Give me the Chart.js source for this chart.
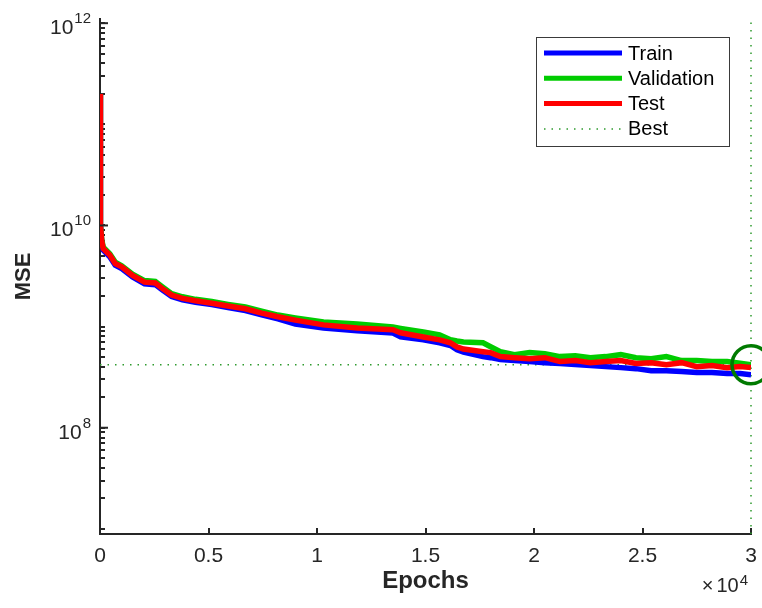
<!DOCTYPE html>
<html>
<head>
<meta charset="utf-8">
<script src="https://cdn.jsdelivr.net/npm/chart.js@4.4.1/dist/chart.umd.min.js"></script>
<style>
  html, body { margin: 0; padding: 0; background: #fff; }
  #wrap { width: 762px; height: 608px; }
</style>
</head>
<body>
<div id="wrap"><canvas id="perf" width="762" height="608"></canvas></div>
<script>
const epochs = [0, 10, 30, 80, 150, 450, 700, 1000, 1500, 2050, 2550, 2850, 3300, 3800, 4400,
  5150, 5900, 6700, 7450, 8200, 9000, 10300, 11850, 13500, 13850, 14900, 15650, 16150, 16450,
  16750, 17650, 18000, 18450, 19100, 19800, 20500, 21200, 21900, 22600, 23300, 24000, 24700,
  25400, 26100, 26800, 27500, 28200, 28900, 29500, 30000];

const trainMse = [2.0e11, 3.0e10, 1.0e10, 6.8e9, 5.7e9, 4.9e9, 4.05e9, 3.75e9, 3.1e9, 2.65e9,
  2.6e9, 2.32e9, 1.98e9, 1.84e9, 1.74e9, 1.65e9, 1.54e9, 1.44e9, 1.31e9, 1.19e9, 1.06e9,
  9.7e8, 9.1e8, 8.65e8, 7.9e8, 7.4e8, 6.9e8, 6.5e8, 5.9e8, 5.6e8,
  5.05e8, 4.93e8, 4.72e8, 4.61e8, 4.51e8, 4.40e8, 4.31e8, 4.21e8, 4.12e8, 4.02e8, 3.93e8,
  3.84e8, 3.67e8, 3.67e8, 3.59e8, 3.51e8, 3.51e8, 3.43e8, 3.43e8, 3.35e8];

const validationMse = [2.0e11, 3.0e10, 1.0e10, 7.2e9, 6.1e9, 5.25e9, 4.35e9, 4.0e9, 3.3e9, 2.85e9,
  2.8e9, 2.5e9, 2.12e9, 1.97e9, 1.86e9, 1.77e9, 1.66e9, 1.56e9, 1.42e9, 1.3e9, 1.22e9,
  1.11e9, 1.06e9, 9.9e8, 9.6e8, 8.85e8, 8.3e8, 7.4e8, 7.2e8, 7.05e8,
  6.93e8, 6.33e8, 5.65e8, 5.28e8, 5.53e8, 5.40e8, 5.05e8, 5.16e8, 4.93e8, 5.05e8, 5.28e8,
  4.93e8, 4.82e8, 5.05e8, 4.61e8, 4.61e8, 4.51e8, 4.51e8, 4.35e8, 4.2e8];

const testMse = [2.0e11, 3.0e10, 1.0e10, 7.0e9, 5.9e9, 5.1e9, 4.2e9, 3.9e9, 3.2e9, 2.75e9,
  2.7e9, 2.4e9, 2.05e9, 1.9e9, 1.8e9, 1.7e9, 1.6e9, 1.5e9, 1.36e9, 1.25e9, 1.16e9,
  1.04e9, 9.7e8, 9.3e8, 8.7e8, 7.9e8, 7.4e8, 6.9e8, 6.3e8, 6.0e8,
  5.65e8, 5.53e8, 5.05e8, 4.93e8, 4.82e8, 4.93e8, 4.51e8, 4.61e8, 4.40e8, 4.51e8, 4.61e8,
  4.31e8, 4.40e8, 4.21e8, 4.40e8, 4.02e8, 4.12e8, 3.93e8, 4.02e8, 3.93e8];

const bestEpoch = 30000;
const bestMse = 4.2e8;

const xTicks = [0, 5000, 10000, 15000, 20000, 25000, 30000];
const yLabelExps = [8, 10, 12];
const yMin = 8.9e6, yMax = 1.1e12;

const FONT = '"Liberation Sans", Arial, Helvetica, sans-serif';
const AXIS = '#262626';

// log minor ticks 1..9 x 10^n
const yTicks = [];
for (let p = 7; p <= 12; p++) {
  for (let m = 1; m <= 9; m++) {
    const v = m * Math.pow(10, p);
    if (v >= yMin && v <= yMax) yTicks.push(v);
  }
}

function pts(vals) {
  return epochs.map((e, i) => ({ x: e, y: vals[i] }));
}

const legendItems = [
  { label: 'Train', color: '#0000ff', dash: null },
  { label: 'Validation', color: '#00cc00', dash: null },
  { label: 'Test', color: '#ff0000', dash: null },
  { label: 'Best', color: '#2e9a2e', dash: [1.5, 6] }
];

const extras = {
  id: 'extras',
  afterDraw(chart) {
    const ctx = chart.ctx;
    const ys = chart.scales.y;
    const area = chart.chartArea;
    ctx.save();

    // y labels 10^n + longer major ticks
    ctx.fillStyle = AXIS;
    ctx.strokeStyle = AXIS;
    ctx.lineWidth = 2;
    ctx.textAlign = 'left';
    ctx.textBaseline = 'alphabetic';
    yLabelExps.forEach(p => {
      const py = ys.getPixelForValue(Math.pow(10, p));
      ctx.beginPath();
      ctx.moveTo(area.left, py);
      ctx.lineTo(area.left + 8, py);
      ctx.stroke();
      ctx.font = '15px ' + FONT;
      const ew = ctx.measureText(String(p)).width;
      ctx.font = '21px ' + FONT;
      const bw = ctx.measureText('10').width;
      const xe = 91 - ew;
      ctx.fillText('10', xe - 1 - bw, py + 11);
      ctx.font = '15px ' + FONT;
      ctx.fillText(String(p), xe, py);
    });

    // x exponent  (x10^4)
    ctx.font = '15px ' + FONT;
    const e4 = ctx.measureText('4').width;
    const x4 = area.right - 3 - e4;
    ctx.fillText('4', x4, 585);
    ctx.font = '20px ' + FONT;
    ctx.textAlign = 'right';
    const w10 = ctx.measureText('10').width;
    ctx.fillText('10', x4 - 1, 592);
    ctx.fillText('\u00d7', x4 - 1 - w10 - 3, 592);

    // legend
    const bx = 536.5, by = 37.5, bw2 = 193, bh = 109;
    ctx.textAlign = 'left';
    ctx.fillStyle = '#fff';
    ctx.fillRect(bx, by, bw2, bh);
    ctx.strokeStyle = '#3a3a3a';
    ctx.lineWidth = 1;
    ctx.strokeRect(bx, by, bw2, bh);
    legendItems.forEach((it, i) => {
      const ly = 53 + i * 25.3;
      ctx.beginPath();
      ctx.strokeStyle = it.color;
      if (it.dash) { ctx.setLineDash(it.dash); ctx.lineWidth = 1.5; }
      else { ctx.setLineDash([]); ctx.lineWidth = 5; }
      ctx.moveTo(544, ly);
      ctx.lineTo(622, ly);
      ctx.stroke();
      ctx.setLineDash([]);
      ctx.fillStyle = '#000';
      ctx.font = '20px ' + FONT;
      ctx.textBaseline = 'middle';
      ctx.fillText(it.label, 628, ly + 1);
    });
    ctx.restore();
  }
};

new Chart(document.getElementById('perf'), {
  type: 'line',
  data: {
    datasets: [
      {
        label: 'BestCircle', data: [{ x: bestEpoch, y: bestMse }], showLine: false,
        pointRadius: 19, pointHoverRadius: 19, pointBorderWidth: 3.5,
        pointBorderColor: '#007a00', pointBackgroundColor: 'rgba(0,0,0,0)',
        clip: false, order: 0
      },
      {
        label: 'Test', data: pts(testMse), borderColor: '#ff0000', borderWidth: 5.5,
        pointRadius: 0, tension: 0, order: 1
      },
      {
        label: 'Validation', data: pts(validationMse), borderColor: '#00cc00', borderWidth: 5.5,
        pointRadius: 0, tension: 0, order: 2
      },
      {
        label: 'Train', data: pts(trainMse), borderColor: '#0000ff', borderWidth: 5.5,
        pointRadius: 0, tension: 0, order: 3
      },
      {
        label: 'BestH', data: [{ x: 0, y: bestMse }, { x: bestEpoch, y: bestMse }],
        borderColor: '#2e9a2e', borderWidth: 1.5, borderDash: [1.5, 6],
        pointRadius: 0, order: 4
      },
      {
        label: 'BestV', data: [{ x: bestEpoch, y: yMin }, { x: bestEpoch, y: yMax }],
        borderColor: '#2e9a2e', borderWidth: 1.5, borderDash: [1.5, 6],
        pointRadius: 0, clip: false, order: 5
      }
    ]
  },
  options: {
    responsive: false,
    animation: false,
    events: [],
    layout: { autoPadding: false, padding: { top: 19, right: 11, left: 0, bottom: 0 } },
    plugins: { legend: { display: false }, tooltip: { enabled: false } },
    scales: {
      x: {
        type: 'linear', min: 0, max: 30000,
        afterBuildTicks: s => { s.ticks = xTicks.map(v => ({ value: v })); },
        afterFit: s => { s.height = 74; },
        grid: { drawOnChartArea: false, drawTicks: true, tickLength: -6, color: AXIS, lineWidth: 2 },
        border: { display: true, color: AXIS, width: 2 },
        ticks: {
          color: AXIS, padding: 3.4, maxRotation: 0, autoSkip: false,
          font: { family: FONT, size: 21, lineHeight: 2.4 },
          callback: v => String(v / 10000)
        },
        title: {
          display: true, text: 'Epochs', color: AXIS,
          font: { family: FONT, size: 24, weight: 'bold' },
          padding: { top: 0, bottom: 12 }
        }
      },
      y: {
        type: 'logarithmic', min: yMin, max: yMax,
        afterBuildTicks: s => { s.ticks = yTicks.map(v => ({ value: v })); },
        afterFit: s => { s.width = 100; },
        grid: { drawOnChartArea: false, drawTicks: true, tickLength: -5, color: AXIS, lineWidth: 2 },
        border: { display: true, color: AXIS, width: 2 },
        ticks: { display: false },
        title: {
          display: true, text: 'MSE', color: AXIS,
          font: { family: FONT, size: 22, weight: 'bold' },
          padding: { top: 11, bottom: 0 }
        }
      }
    }
  },
  plugins: [extras]
});
</script>
</body>
</html>
